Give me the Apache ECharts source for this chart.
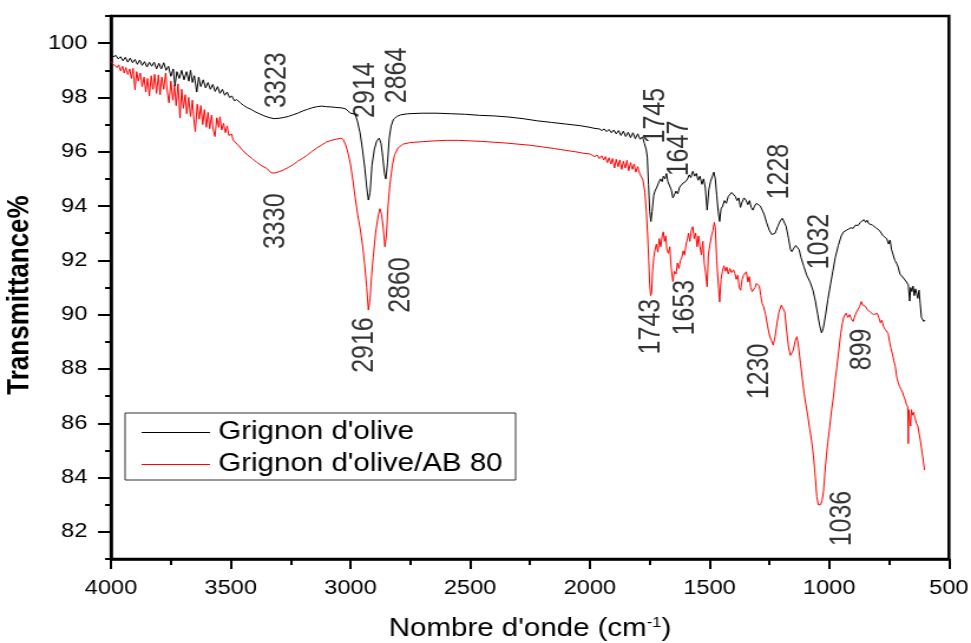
<!DOCTYPE html>
<html>
<head>
<meta charset="utf-8">
<title>FTIR - Grignon d'olive</title>
<script src="https://cdn.jsdelivr.net/npm/echarts@6.0.0/dist/echarts.min.js"></script>
<style>
  html, body { margin: 0; padding: 0; background: #fff; overflow: hidden; }
  /* the figure is laid out narrower and widened horizontally */
  #chart { width: 823px; height: 643px; transform: scaleX(1.17983); transform-origin: 0 0; }
</style>
</head>
<body>
<div id="chart"></div>
<script>
// Spectrum: Grignon d'olive  [wavenumber cm-1, transmittance %]
const grignon = [
  [4000,99.56],[3990,99.50],[3980,99.55],[3970,99.42],[3960,99.50],[3950,99.35],[3940,99.48],[3930,99.30],
  [3920,99.45],[3910,99.28],[3900,99.40],[3890,99.22],[3880,99.38],[3870,99.18],[3860,99.32],[3850,99.12],
  [3840,99.30],[3830,99.15],[3820,99.30],[3810,99.05],[3800,99.26],[3790,99.05],[3780,99.28],[3770,99.00],
  [3760,99.15],[3750,98.78],[3740,99.05],[3733,98.42],[3725,98.95],[3715,98.70],[3705,99.00],[3695,98.65],
  [3685,98.95],[3675,98.60],[3668,99.00],[3660,98.55],[3652,98.80],[3642,98.20],[3634,98.75],[3625,98.40],
  [3615,98.65],[3605,98.35],[3595,98.55],[3585,98.30],[3575,98.48],[3565,98.22],[3555,98.40],[3545,98.15],
  [3535,98.30],[3525,98.08],[3515,98.20],[3505,98.00],[3495,98.05],[3485,97.88],[3475,97.92],[3460,97.80],
  [3445,97.70],[3430,97.62],[3415,97.56],[3400,97.48],[3380,97.40],[3360,97.32],[3340,97.26],[3320,97.22],
  [3300,97.23],[3280,97.26],[3260,97.30],[3240,97.36],[3220,97.42],[3200,97.50],[3180,97.56],[3160,97.62],
  [3140,97.66],[3120,97.68],[3100,97.66],[3080,97.65],[3060,97.63],[3040,97.62],[3020,97.58],[3010,97.50],
  [3000,97.42],[2990,97.40],[2980,97.38],[2970,97.10],[2960,96.70],[2950,96.10],[2940,95.40],[2932,94.70],
  [2925,94.22],[2918,94.50],[2910,95.50],[2900,96.10],[2890,96.40],[2880,96.50],[2872,96.30],[2865,95.80],
  [2858,95.20],[2852,95.00],[2845,95.60],[2838,96.50],[2830,96.95],[2820,97.20],[2806,97.30],[2790,97.36],
  [2760,97.40],[2700,97.42],[2640,97.42],[2580,97.40],[2520,97.38],[2460,97.34],[2400,97.32],[2340,97.28],
  [2280,97.22],[2220,97.14],[2160,97.08],[2100,97.02],[2040,96.96],[2000,96.90],[1980,96.86],[1960,96.84],
  [1950,96.78],[1940,96.84],[1930,96.74],[1920,96.82],[1910,96.70],[1900,96.80],[1890,96.66],[1880,96.78],
  [1870,96.60],[1860,96.76],[1850,96.56],[1840,96.72],[1830,96.52],[1820,96.70],[1810,96.48],[1800,96.66],
  [1790,96.46],[1780,96.55],[1772,96.30],[1765,96.10],[1760,95.80],[1755,94.80],[1750,93.80],[1745,93.43],
  [1740,93.80],[1733,94.40],[1728,94.55],[1720,94.70],[1713,94.85],[1705,95.00],[1698,94.90],[1693,95.10],
  [1686,95.00],[1680,95.20],[1674,94.90],[1667,94.95],[1660,94.60],[1653,94.30],[1647,94.35],[1640,94.55],
  [1633,94.45],[1625,94.70],[1617,94.65],[1610,94.85],[1600,94.90],[1592,95.00],[1585,95.15],[1578,95.05],
  [1570,95.28],[1562,95.10],[1555,95.20],[1548,94.95],[1540,95.10],[1532,94.80],[1525,95.00],[1518,94.70],
  [1510,93.85],[1503,94.60],[1496,94.90],[1488,95.10],[1482,95.25],[1476,95.00],[1470,94.40],[1464,93.80],
  [1458,93.43],[1452,93.90],[1445,94.00],[1438,94.20],[1430,94.10],[1422,94.35],[1415,94.30],[1408,94.50],
  [1400,94.45],[1392,94.35],[1385,94.20],[1378,94.30],[1371,93.95],[1364,94.15],[1356,94.30],[1348,94.22],
  [1340,94.05],[1333,94.20],[1326,93.95],[1319,93.85],[1312,94.00],[1304,94.10],[1296,94.12],[1288,94.00],
  [1280,93.85],[1272,93.70],[1262,93.40],[1250,93.10],[1240,92.95],[1234,92.90],[1226,93.00],[1215,93.25],
  [1205,93.45],[1196,93.55],[1190,93.50],[1180,93.25],[1170,92.80],[1162,92.40],[1156,92.32],[1148,92.45],
  [1140,92.55],[1134,92.60],[1126,92.40],[1118,92.10],[1106,91.77],[1094,91.45],[1080,91.20],[1068,90.90],
  [1058,90.50],[1048,90.00],[1040,89.60],[1032,89.33],[1025,89.50],[1016,89.95],[1006,90.55],[995,91.10],
  [985,91.60],[975,92.10],[962,92.55],[950,92.90],[940,93.05],[930,93.10],[920,93.15],[910,93.20],
  [900,93.18],[890,93.30],[880,93.28],[870,93.40],[862,93.35],[855,93.50],[848,93.40],[842,93.48],
  [835,93.35],[828,93.40],[820,93.30],[812,93.32],[805,93.20],[798,93.25],[790,93.10],[782,93.05],
  [775,92.90],[768,92.95],[760,92.80],[752,92.60],[746,92.75],[740,92.40],[733,92.20],[726,92.00],
  [719,91.90],[712,91.75],[705,91.50],[698,91.55],[690,91.35],[684,91.40],[677,91.20],[670,91.10],
  [664,90.50],[660,91.00],[655,90.85],[650,91.05],[645,90.70],[640,90.95],[635,91.00],[630,90.60],
  [625,90.90],[620,90.40],[615,89.90],[610,89.85],[605,89.75],[600,89.80]
];

// Spectrum: Grignon d'olive/AB 80
const grignonAB80 = [
  [4000,99.32],[3990,99.22],[3982,99.28],[3975,99.10],[3968,99.20],[3960,98.98],[3952,99.15],[3945,98.90],
  [3938,99.10],[3930,98.85],[3922,99.05],[3915,98.70],[3908,99.07],[3900,98.28],[3893,98.95],[3886,98.60],
  [3878,98.90],[3870,98.40],[3862,98.75],[3855,98.20],[3848,98.70],[3840,98.05],[3832,98.80],[3825,98.30],
  [3818,98.85],[3810,98.15],[3802,98.83],[3795,98.10],[3788,98.75],[3780,98.30],[3772,98.90],[3765,98.20],
  [3758,97.80],[3750,98.60],[3742,97.90],[3735,98.45],[3728,97.70],[3720,98.50],[3712,97.24],[3705,98.30],
  [3698,97.60],[3690,98.10],[3684,97.40],[3676,98.00],[3668,97.30],[3660,97.90],[3654,97.20],[3648,96.74],
  [3640,97.75],[3632,97.20],[3625,97.70],[3617,97.00],[3610,97.55],[3602,96.90],[3595,97.45],[3588,96.85],
  [3580,97.35],[3573,96.80],[3566,96.56],[3558,97.25],[3550,96.90],[3545,97.29],[3538,96.80],[3530,97.05],
  [3522,96.70],[3515,96.95],[3508,96.60],[3503,96.55],[3496,96.65],[3490,96.43],[3470,96.25],[3450,96.05],
  [3430,95.88],[3410,95.75],[3390,95.60],[3370,95.48],[3350,95.39],[3330,95.22],[3315,95.22],[3300,95.26],
  [3280,95.33],[3260,95.42],[3240,95.52],[3220,95.65],[3200,95.76],[3180,95.88],[3160,96.02],[3140,96.14],
  [3120,96.25],[3100,96.36],[3080,96.42],[3060,96.46],[3040,96.50],[3030,96.45],[3020,96.25],[3010,95.95],
  [3000,95.55],[2990,94.96],[2980,94.30],[2970,93.70],[2960,93.20],[2950,92.60],[2940,91.80],[2932,91.00],
  [2925,90.17],[2918,90.60],[2912,91.40],[2905,92.10],[2895,93.00],[2885,93.60],[2877,93.90],[2870,93.70],
  [2863,93.20],[2856,92.50],[2850,92.90],[2843,94.00],[2835,94.80],[2825,95.50],[2815,95.90],[2800,96.15],
  [2780,96.28],[2750,96.34],[2700,96.37],[2650,96.40],[2600,96.42],[2550,96.42],[2500,96.40],[2450,96.38],
  [2400,96.35],[2350,96.32],[2300,96.28],[2250,96.24],[2200,96.18],[2150,96.12],[2100,96.05],[2060,96.00],
  [2030,95.95],[2000,95.92],[1980,95.82],[1970,95.88],[1960,95.75],[1950,95.85],[1942,95.70],[1935,95.82],
  [1927,95.60],[1920,95.78],[1912,95.55],[1905,95.75],[1897,95.40],[1890,95.72],[1882,95.45],[1875,95.70],
  [1867,95.35],[1860,95.65],[1852,95.40],[1845,95.68],[1838,95.30],[1830,95.60],[1822,95.35],[1815,95.55],
  [1808,95.25],[1800,95.45],[1792,95.20],[1785,95.15],[1778,94.96],[1770,94.50],[1764,93.80],[1759,93.00],
  [1754,92.00],[1750,91.10],[1746,90.70],[1742,90.80],[1738,91.60],[1733,92.10],[1728,92.38],[1722,92.60],
  [1716,92.30],[1710,92.80],[1704,92.50],[1698,92.90],[1693,93.05],[1688,92.70],[1683,92.90],[1678,92.40],
  [1672,92.26],[1666,92.50],[1660,91.70],[1653,91.22],[1647,91.60],[1640,91.50],[1634,91.90],[1628,91.70],
  [1622,92.00],[1616,92.10],[1610,92.35],[1604,92.20],[1598,92.60],[1592,92.80],[1588,93.00],[1582,92.70],
  [1576,93.10],[1570,93.24],[1564,92.80],[1558,93.00],[1552,92.50],[1546,92.90],[1540,92.50],[1534,92.20],
  [1528,92.70],[1522,91.90],[1516,91.50],[1510,91.03],[1505,92.20],[1498,92.60],[1492,92.90],[1486,93.10],
  [1480,93.40],[1476,93.20],[1470,92.00],[1464,91.20],[1458,90.47],[1452,91.30],[1446,91.60],[1440,91.80],
  [1434,91.60],[1428,91.75],[1422,91.50],[1415,91.70],[1408,91.55],[1400,91.65],[1394,91.52],[1388,91.30],
  [1382,91.45],[1376,91.00],[1370,90.90],[1364,91.30],[1358,91.45],[1352,91.50],[1346,91.58],[1340,91.20],
  [1334,91.40],[1328,91.00],[1322,90.85],[1316,90.78],[1310,91.00],[1304,91.15],[1298,91.22],[1292,91.05],
  [1286,90.70],[1280,90.40],[1274,90.29],[1266,90.00],[1258,89.60],[1250,89.25],[1242,89.05],[1234,88.88],
  [1226,89.20],[1218,89.70],[1210,90.10],[1200,90.35],[1193,90.36],[1186,90.10],[1178,89.40],[1170,88.80],
  [1162,88.50],[1156,88.45],[1150,88.70],[1142,89.05],[1135,89.19],[1128,88.80],[1120,88.20],[1112,87.60],
  [1105,87.10],[1098,86.70],[1090,86.30],[1082,85.80],[1074,85.38],[1066,84.80],[1058,84.00],[1052,83.30],
  [1046,83.00],[1040,83.05],[1036,83.00],[1030,83.15],[1024,83.50],[1018,84.20],[1012,84.80],[1006,85.30],
  [998,85.87],[990,86.50],[982,87.00],[975,87.60],[968,88.08],[960,88.70],[952,89.30],[945,89.70],
  [938,89.95],[930,90.05],[922,89.90],[915,90.00],[908,89.85],[900,89.75],[893,89.95],[886,90.10],
  [880,90.15],[873,90.30],[866,90.48],[860,90.35],[854,90.40],[848,90.30],[842,90.20],[836,90.25],
  [830,90.10],[822,90.15],[815,90.00],[808,90.05],[800,90.05],[793,89.90],[786,89.70],[780,89.80],
  [773,89.55],[766,89.45],[760,89.50],[754,89.31],[748,89.00],[742,88.75],[736,88.55],[730,88.30],
  [724,88.08],[718,87.70],[712,87.50],[706,87.35],[700,87.25],[694,87.15],[688,86.97],[682,86.85],
  [678,86.70],[672,86.60],[670,85.25],[668,86.50],[664,86.55],[660,85.90],[657,86.50],[652,86.30],
  [648,86.40],[642,86.20],[636,86.00],[630,85.90],[624,85.60],[618,85.30],[612,84.90],[607,84.60],
  [602,84.28]
];

const seriesNames = ["Grignon d'olive", "Grignon d'olive/AB 80"];
const seriesColors = ['#000000', '#ff0000'];

// Band assignments written beside the peaks: label text and where it sits
const peakLabels = [
  { text: '3323', at: [3307, 98.64] },
  { text: '2914', at: [2935, 98.27] },
  { text: '2864', at: [2801, 98.81] },
  { text: '3330', at: [3311, 93.44] },
  { text: '2916', at: [2939, 88.88] },
  { text: '2860', at: [2787, 91.09] },
  { text: '1745', at: [1724, 97.33] },
  { text: '1647', at: [1626, 96.12] },
  { text: '1228', at: [1208, 95.27] },
  { text: '1032', at: [1037, 92.69] },
  { text: '1743', at: [1742, 89.56] },
  { text: '1653', at: [1598, 90.26] },
  { text: '1230', at: [1287, 87.91] },
  { text: '899',  at: [859, 88.72] },
  { text: '1036', at: [945, 82.49] }
];

// Axis ranges and ticks
const xMin = 500, xMax = 4000, xStep = 500;
const yMin = 81, yMax = 101;
const yMajorTicks = [82, 84, 86, 88, 90, 92, 94, 96, 98, 100];
const yMinorTicks = [81, 83, 85, 87, 89, 91, 93, 95, 97, 99, 101];

const FONT = '"Liberation Sans", Arial, Helvetica, sans-serif';

const chart = echarts.init(document.getElementById('chart'), null, { renderer: 'canvas' });

const option = {
  backgroundColor: '#ffffff',
  animation: false,
  grid: {
    left: 94.1, right: 18.7, top: 16, bottom: 84,
    outerBoundsMode: 'none', containLabel: false,
    show: true, borderColor: '#000', borderWidth: 2.5, backgroundColor: 'transparent'
  },
  legend: {
    data: seriesNames,
    orient: 'vertical',
    left: 106, top: 413,
    padding: [7, 11, 3, 14],
    itemGap: 7,
    icon: 'rect',
    itemWidth: 58, itemHeight: 1.2,
    borderColor: '#333', borderWidth: 1,
    textStyle: { fontFamily: FONT, fontSize: 25, color: '#000', lineHeight: 25, padding: [0, 0, 0, 2] }
  },
  xAxis: {
    type: 'value', inverse: true,
    min: xMin, max: xMax, interval: xStep,
    name: "{a|Nombre d'onde (cm}{s|-1}{a|)}",
    nameLocation: 'middle', nameGap: 57,
    nameTextStyle: {
      rich: {
        a: { fontFamily: FONT, fontSize: 25, color: '#000', lineHeight: 26 },
        s: { fontFamily: FONT, fontSize: 14, color: '#000', verticalAlign: 'top', padding: [0, 0, 0, 0] }
      }
    },
    axisLine: { show: true, lineStyle: { color: '#000', width: 2.5 } },
    axisTick: { show: true, inside: false, length: 10, lineStyle: { color: '#000', width: 2 } },
    minorTick: { show: true, splitNumber: 2, length: 6, lineStyle: { color: '#000', width: 2 } },
    axisLabel: {
      fontFamily: FONT, fontSize: 20, color: '#000', margin: 19,
      formatter: v => String(v)
    },
    splitLine: { show: false }
  },
  yAxis: [
    {
      type: 'value', position: 'left',
      min: yMin, max: yMax, interval: 1,
      name: 'Transmittance%',
      nameLocation: 'middle', nameGap: 59,
      nameTextStyle: { fontFamily: FONT, fontSize: 26, fontWeight: 'bold', color: '#000', padding: [0, 15, 0, 0] },
      axisLine: { show: true, lineStyle: { color: '#000', width: 2.5 } },
      axisTick: { show: true, inside: false, length: 11, customValues: yMajorTicks, lineStyle: { color: '#000', width: 2 } },
      axisLabel: { fontFamily: FONT, fontSize: 20, color: '#000', margin: 20, customValues: yMajorTicks, formatter: v => String(v) },
      splitLine: { show: false }
    },
    {
      type: 'value', position: 'left',
      min: yMin, max: yMax, interval: 1,
      axisLine: { show: false },
      axisTick: { show: true, inside: false, length: 5, customValues: yMinorTicks, lineStyle: { color: '#000', width: 2 } },
      axisLabel: { show: false },
      splitLine: { show: false }
    }
  ],
  series: [
    {
      name: seriesNames[0], type: 'line', data: grignon,
      xAxisIndex: 0, yAxisIndex: 0,
      symbol: 'none', showSymbol: false,
      lineStyle: { color: seriesColors[0], width: 1 },
      itemStyle: { color: seriesColors[0] },
      z: 3
    },
    {
      name: seriesNames[1], type: 'line', data: grignonAB80,
      xAxisIndex: 0, yAxisIndex: 0,
      symbol: 'none', showSymbol: false,
      lineStyle: { color: seriesColors[1], width: 1 },
      itemStyle: { color: seriesColors[1] },
      z: 2
    },
    {
      name: 'bandes', type: 'scatter',
      xAxisIndex: 0, yAxisIndex: 0,
      symbolSize: 0, silent: true,
      data: peakLabels.map(p => ({ name: p.text, value: p.at })),
      label: {
        show: true, position: 'inside', rotate: 90, formatter: '{b}',
        fontFamily: FONT, fontSize: 25, color: '#000'
      },
      z: 4
    }
  ]
};

chart.setOption(option);
</script>
</body>
</html>
